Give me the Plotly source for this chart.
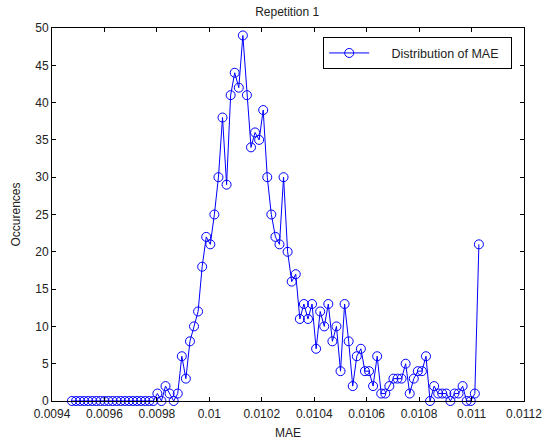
import numpy as np
import plotly.graph_objects as go

# Histogram of MAE (bin centres evenly spaced between first and last bin)
bin_first = 0.009476
bin_last = 0.011028
counts = [0, 0, 0, 0, 0, 0, 0, 0, 0, 0,
          0, 0, 0, 0, 0, 0, 0, 0, 0, 0,
          0, 1, 0, 2, 1, 0, 1, 6, 3, 8,
          10, 12, 18, 22, 21, 25, 30, 38, 29, 41,
          44, 42, 49, 41, 34, 36, 35, 39, 30, 25,
          22, 21, 30, 20, 16, 17, 11, 13, 11, 13,
          7, 12, 10, 13, 8, 10, 4, 13, 8, 2,
          6, 7, 4, 4, 2, 6, 1, 1, 2, 3,
          3, 3, 5, 1, 3, 4, 4, 6, 0, 2,
          1, 1, 1, 0, 1, 1, 2, 0, 0, 1,
          21]
mae = np.linspace(bin_first, bin_last, len(counts))

x_tickvals = [0.0094, 0.0096, 0.0098, 0.0100, 0.0102, 0.0104, 0.0106, 0.0108, 0.0110, 0.0112]
x_ticktext = ["0.0094", "0.0096", "0.0098", "0.01", "0.0102", "0.0104", "0.0106", "0.0108", "0.011", "0.0112"]
y_tickvals = [0, 5, 10, 15, 20, 25, 30, 35, 40, 45, 50]

FONT = "Liberation Sans, Arial, sans-serif"
TXT = "#222222"
NB = "\u00a0"

fig = go.Figure()
fig.add_trace(go.Scatter(
    x=mae, y=counts, mode="lines+markers",
    name=NB * 5 + "Distribution of MAE" + NB * 2,
    line=dict(color="#0000FF", width=1),
    marker=dict(symbol="circle-open", size=9, color="#0000FF", line=dict(width=1, color="#0000FF")),
    cliponaxis=False,
))

axis_common = dict(
    showline=True, linecolor="black", linewidth=1, mirror="ticks",
    ticks="inside", ticklen=4, tickcolor="black", tickwidth=1,
    showgrid=False, zeroline=False, automargin=False,
    tickfont=dict(family=FONT, size=12, color=TXT),
)

fig.update_xaxes(range=[0.0094, 0.0112], tickvals=x_tickvals, ticktext=x_ticktext,
                 ticklabelstandoff=2,
                 title=dict(text="MAE", font=dict(family=FONT, size=12, color=TXT), standoff=8),
                 **axis_common)
fig.update_yaxes(range=[0, 50], tickvals=y_tickvals,
                 title=dict(text="Occurences", font=dict(family=FONT, size=12, color=TXT), standoff=12),
                 **axis_common)

fig.update_layout(
    width=547, height=441,
    margin=dict(l=52, r=23, t=28, b=40),
    paper_bgcolor="white", plot_bgcolor="white",
    title=dict(text="Repetition 1", x=0.525, xanchor="center", y=1 - 12 / 441, yanchor="middle",
               yref="container", font=dict(family=FONT, size=12, color=TXT)),
    showlegend=True,
    legend=dict(x=0.975, y=0.975, xanchor="right", yanchor="top",
                bordercolor="black", borderwidth=1, bgcolor="white",
                font=dict(family=FONT, size=12.5, color=TXT),
                itemwidth=40, tracegroupgap=0),
    font=dict(family=FONT),
)

fig.write_html("out.html")
